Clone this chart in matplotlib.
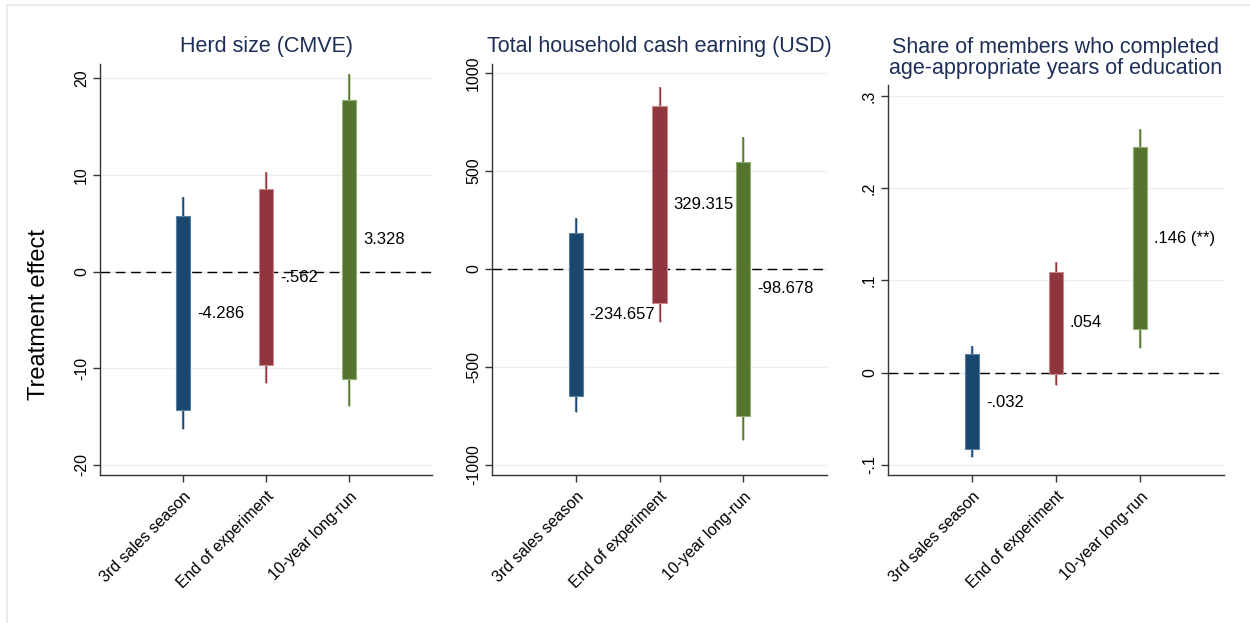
import matplotlib
matplotlib.use("Agg")
import matplotlib.pyplot as plt
from matplotlib.lines import Line2D

plt.rcParams['font.family'] = ['Liberation Sans', 'DejaVu Sans']

categories = ["3rd sales season", "End of experiment", "10-year long-run"]
colors = ["#1a476f", "#90353b", "#55752f"]
edge_colors = ["#5b7fa3", "#c58a8e", "#92ad75"]

titles = ["Herd size (CMVE)",
          "Total household cash earning (USD)",
          "Share of members who completed\nage-appropriate years of education"]

# point estimates
herd_est = [-4.286, -0.562, 3.328]
cash_est = [-234.657, 329.315, -98.678]
educ_est = [-0.032, 0.054, 0.146]

# 90% CI (box) and 95% CI (whisker) bounds
herd_ci90_lo = [-14.3, -9.7, -11.1]
herd_ci90_hi = [5.8, 8.6, 17.8]
herd_ci95_lo = [-16.3, -11.5, -13.9]
herd_ci95_hi = [7.7, 10.3, 20.5]

cash_ci90_lo = [-650, -176, -748]
cash_ci90_hi = [181, 832, 548]
cash_ci95_lo = [-730, -271, -875]
cash_ci95_hi = [260, 928, 672]

educ_ci90_lo = [-0.083, -0.001, 0.047]
educ_ci90_hi = [0.020, 0.109, 0.245]
educ_ci95_lo = [-0.092, -0.013, 0.027]
educ_ci95_hi = [0.029, 0.120, 0.264]

value_labels = [["-4.286", "-.562", "3.328"],
                ["-234.657", "329.315", "-98.678"],
                ["-.032", ".054", ".146 (**)"]]

herd_ticks = [-20, -10, 0, 10, 20]
herd_ticklabels = ["-20", "-10", "0", "10", "20"]
cash_ticks = [-1000, -500, 0, 500, 1000]
cash_ticklabels = ["-1000", "-500", "0", "500", "1000"]
educ_ticks = [-0.1, 0, 0.1, 0.2, 0.3]
educ_ticklabels = ["-.1", "0", ".1", ".2", ".3"]

panels = [
    (herd_est, herd_ci90_lo, herd_ci90_hi, herd_ci95_lo, herd_ci95_hi,
     herd_ticks, herd_ticklabels, (-21.05, 21.55)),
    (cash_est, cash_ci90_lo, cash_ci90_hi, cash_ci95_lo, cash_ci95_hi,
     cash_ticks, cash_ticklabels, (-1051, 1048)),
    (educ_est, educ_ci90_lo, educ_ci90_hi, educ_ci95_lo, educ_ci95_hi,
     educ_ticks, educ_ticklabels, (-0.111, 0.312)),
]

W, H = 1250, 623
fig = plt.figure(figsize=(12.5, 6.23), dpi=100)

axes_px = [(100, 432, 63.5, 475), (492, 827, 63.5, 475), (888, 1224, 85, 475)]

title_color = "#1e2f57"
spine_color = "#333333"
grid_color = "#e6eff1"

for i, (est, lo90, hi90, lo95, hi95, ticks, ticklabels, ylim) in enumerate(panels):
    l, r, t, b = axes_px[i]
    ax = fig.add_axes([l / W, (H - b) / H, (r - l) / W, (b - t) / H])
    xs = [1, 2, 3]
    for j, x in enumerate(xs):
        ax.vlines(x, lo95[j], hi95[j], color=edge_colors[j], linewidth=1.6, zorder=2)
        ax.vlines(x, lo95[j], hi95[j], color=colors[j], linewidth=1.0, zorder=2)
        ax.bar(x, hi90[j] - lo90[j], bottom=lo90[j], width=0.17,
               color=colors[j], edgecolor=edge_colors[j], linewidth=0.8, zorder=3)
        ax.annotate(value_labels[i][j], xy=(x, est[j]), xytext=(10, 0),
                    textcoords="offset points", ha="left", va="center",
                    fontsize=12, color="black", zorder=4)
    ax.axhline(0, color="black", linewidth=1.0, dashes=(7, 4), zorder=2.5)
    ax.set_xlim(0, 4)
    ax.set_ylim(*ylim)
    ax.set_yticks(ticks)
    ax.set_yticklabels(ticklabels, rotation=90, va="center", fontsize=11.5)
    ax.set_xticks(xs)
    ax.set_xticklabels(categories, rotation=45, ha="right",
                       rotation_mode="anchor", fontsize=11.5)
    for tk in ticks:
        ax.axhline(tk, color=grid_color, linewidth=1.0, zorder=0)
    for s in ["top", "right"]:
        ax.spines[s].set_visible(False)
    for s in ["left", "bottom"]:
        ax.spines[s].set_color(spine_color)
        ax.spines[s].set_linewidth(1.0)
    ax.tick_params(axis="both", direction="out", length=5, width=1.0,
                   color=spine_color, pad=3)
    ax.tick_params(axis="x", pad=5)
    ax.set_title(titles[i], fontsize=15.5, color=title_color, pad=8,
                 linespacing=1.0)
    if i == 0:
        ax.set_ylabel("Treatment effect", fontsize=17)
        ax.yaxis.set_label_coords(-0.15, 0.39)

# faint outer frame lines
fig.add_artist(Line2D([7 / W, 1.0], [1 - 4.5 / H, 1 - 4.5 / H],
                      transform=fig.transFigure, color="#e3eaec", linewidth=1.2))
fig.add_artist(Line2D([7 / W, 7 / W], [0.0, 1 - 4.5 / H],
                      transform=fig.transFigure, color="#e3eaec", linewidth=1.2))

fig.savefig("out.png", dpi=100, facecolor="white")
